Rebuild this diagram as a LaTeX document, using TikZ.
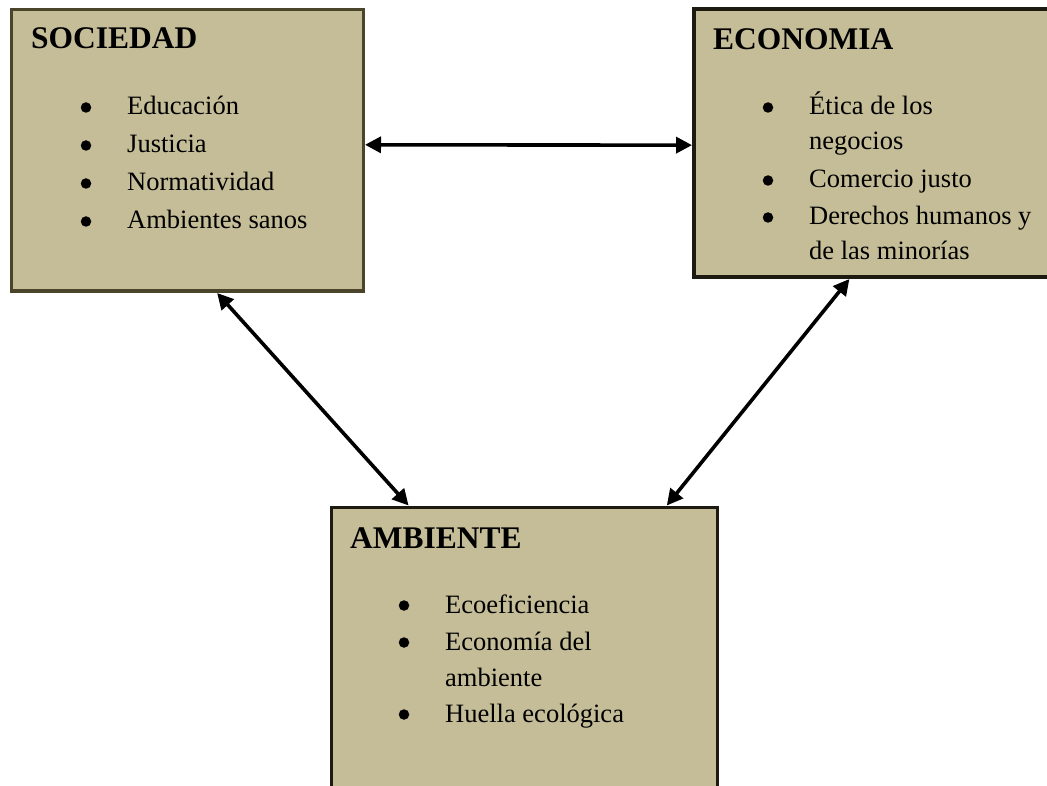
\documentclass[tikz,border=0pt]{standalone}
\usepackage{fontspec}
\setmainfont{Liberation Serif}
\usetikzlibrary{arrows.meta,calc}
\definecolor{tanfill}{HTML}{C4BD97}
\definecolor{olivedark}{HTML}{4A452A}
\definecolor{tandark}{HTML}{1D1B11}
\tikzset{
  box/.style={draw, fill=tanfill, line width=3.5pt, rectangle, anchor=north west, inner sep=0pt},
  title/.style={anchor=base west, inner sep=0pt, font=\fontsize{31.5}{36}\selectfont\bfseries},
  item/.style={anchor=base west, inner sep=0pt, font=\fontsize{26.5}{32}\selectfont},
  bul/.style={circle, fill=black, inner sep=0pt, minimum size=10.5pt},
  link/.style={line width=3.6pt, {Triangle[length=16pt,width=16pt]}-{Triangle[length=16pt,width=16pt]}}
}
\begin{document}
\begin{tikzpicture}[x=1pt,y=-1pt]
\useasboundingbox (0,0) rectangle (1047,786);
\clip (0,0) rectangle (1047,786);
% boxes
\node[box, draw=olivedark, minimum width=352pt, minimum height=281.5pt] (soc) at (9.5,8) {};
\node[box, draw=tandark, minimum width=360pt, minimum height=268pt] (eco) at (692,7.5) {};
\node[box, draw=tandark, minimum width=386pt, minimum height=300pt] (amb) at (329.5,505.5) {};
% SOCIEDAD
\node[title] (socT) at (31,49) {SOCIEDAD};
\node[bul] (sb1) at (86,107.5) {};
\node[item] (s1) at (127,115) {Educación};
\node[bul] (sb2) at (86,145.5) {};
\node[item] (s2) at (127,153) {Justicia};
\node[bul] (sb3) at (86,183.5) {};
\node[item] (s3) at (127,191) {Normatividad};
\node[bul] (sb4) at (86,221.5) {};
\node[item] (s4) at (127,229) {Ambientes sanos};
% ECONOMIA
\node[title] (ecoT) at (713,50) {ECONOMIA};
\node[bul] (eb1) at (768,107.5) {};
\node[item] (e1) at (809,115) {Ética de los};
\node[item] (e1b) at (809,150) {negocios};
\node[bul] (eb2) at (768,180.5) {};
\node[item] (e2) at (809,188) {Comercio justo};
\node[bul] (eb3) at (768,217.5) {};
\node[item] (e3) at (809,225) {Derechos humanos y};
\node[item] (e3b) at (809,260) {de las minorías};
% AMBIENTE
\node[title] (ambT) at (350,548) {AMBIENTE};
\node[bul] (ab1) at (404,605.5) {};
\node[item] (a1) at (445,613) {Ecoeficiencia};
\node[bul] (ab2) at (404,642.5) {};
\node[item] (a2) at (445,650) {Economía del};
\node[item] (a2b) at (445,686) {ambiente};
\node[bul] (ab3) at (404,714.5) {};
\node[item] (a3) at (445,722) {Huella ecológica};
% connectors
\draw[link] ($(soc.north east)!0.48!(soc.south east)$) -- ($(eco.north west)!0.507!(eco.south west)$);
\draw[link] ($(soc.south west)!0.584!(soc.south east)$) -- ($(amb.north west)!0.203!(amb.north east)$);
\draw[link] ($(eco.south west)!0.433!(eco.south east)$) -- ($(amb.north west)!0.866!(amb.north east)$);
\end{tikzpicture}
\end{document}
